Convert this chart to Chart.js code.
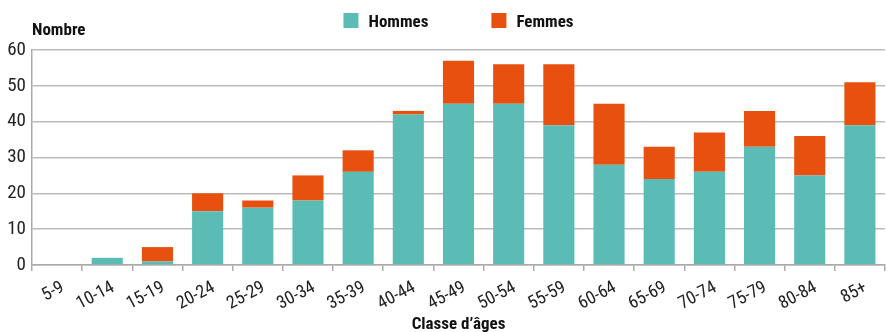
<!DOCTYPE html>
<html><head><meta charset="utf-8">
<script src="https://cdn.jsdelivr.net/npm/chart.js@4/dist/chart.umd.min.js"></script>
<style>html,body{margin:0;padding:0;background:#fff}#wrap{width:886px;height:332px}</style>
</head><body><div id="wrap"><canvas id="c" width="886" height="332"></canvas></div>
<script>
const categories = ["5-9","10-14","15-19","20-24","25-29","30-34","35-39","40-44","45-49","50-54","55-59","60-64","65-69","70-74","75-79","80-84","85+"];
const hommes = [0,2,1,15,16,18,26,42,45,45,39,28,24,26,33,25,39];
const femmes = [0,0,4,5,2,7,6,1,12,11,17,17,9,11,10,11,12];
const yTicks = [0,10,20,30,40,50,60];
const yTitle = "Nombre";
const xTitle = "Classe d\u2019âges";
const seriesNames = ["Hommes","Femmes"];
const seriesColors = ["#5bbcb5","#e8500f"];

const FONT = "'Liberation Sans Narrow','Roboto Condensed','DejaVu Sans Condensed',sans-serif";

const decoPlugin = {
  id: 'deco',
  afterDraw(chart) {
    const ctx = chart.ctx;
    const ca = chart.chartArea;
    ctx.save();
    ctx.fillStyle = "#111";
    ctx.textBaseline = "alphabetic";
    ctx.textAlign = "left";
    ctx.font = "bold 17px " + FONT;
    ctx.fillText(yTitle, ca.left, 35);
    // legend
    const box = 15, gapText = 10, gapItem = 63;
    const widths = chart.data.datasets.map(d => box + gapText + ctx.measureText(d.label).width);
    const total = widths.reduce((a,b)=>a+b,0) + gapItem*(widths.length-1);
    let x = (ca.left + ca.right)/2 - total/2;
    chart.data.datasets.forEach((d,i) => {
      ctx.fillStyle = d.backgroundColor;
      ctx.fillRect(x, 13, box, box);
      ctx.fillStyle = "#111";
      ctx.fillText(d.label, x + box + gapText, 27);
      x += widths[i] + gapItem;
    });
    ctx.restore();
  }
};

new Chart(document.getElementById('c'), {
  type: 'bar',
  data: {
    labels: categories,
    datasets: seriesNames.map((n,i) => ({
      label: n, data: i === 0 ? hommes : femmes, backgroundColor: seriesColors[i],
      barPercentage: 0.62, categoryPercentage: 1
    }))
  },
  options: {
    responsive: false,
    animation: false,
    layout: { padding: { left: 0, right: 1, top: 50, bottom: 0 } },
    plugins: { legend: { display: false }, tooltip: { enabled: false } },
    scales: {
      x: {
        stacked: true,
        offset: true,
        afterFit(scale) { scale.height = 67; },
        grid: { display: true, drawOnChartArea: false, drawTicks: true, tickLength: 6, color: '#aaa', lineWidth: 1.5, offset: true },
        border: { display: true, color: '#aaa', width: 1.5 },
        ticks: { color: '#222', font: { family: FONT, size: 18 }, maxRotation: 28, minRotation: 28, padding: 6, labelOffset: 6 },
        title: { display: true, text: xTitle, color: '#111', font: { family: FONT, size: 17, weight: 'bold' }, padding: { top: 0, bottom: -3 } }
      },
      y: {
        stacked: true,
        min: 0, max: 60,
        afterBuildTicks(scale) { scale.ticks = yTicks.map(v => ({ value: v })); },
        afterFit(scale) { scale.width = 32; },
        grid: { color: '#bbb', lineWidth: 1.5, drawTicks: false },
        border: { display: true, color: '#aaa', width: 1.5 },
        ticks: { color: '#222', font: { family: FONT, size: 19 }, padding: 6 }
      }
    }
  },
  plugins: [decoPlugin]
});
</script></body></html>
